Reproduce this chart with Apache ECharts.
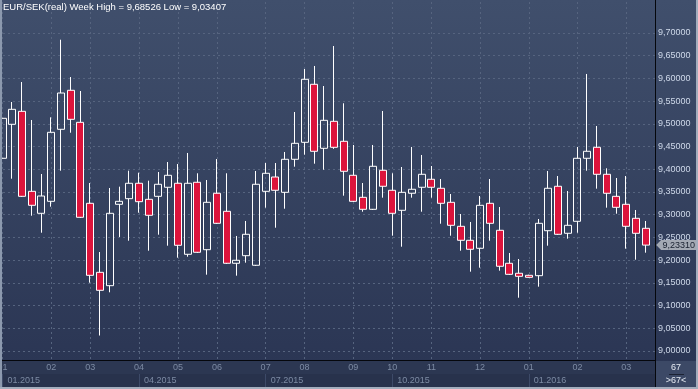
<!DOCTYPE html>
<html><head><meta charset="utf-8">
<script src="https://cdn.jsdelivr.net/npm/echarts@6/dist/echarts.min.js"></script>
<style>html,body{margin:0;padding:0;background:#2c3753;}#c{width:698px;height:389px;}</style>
</head><body><div id="c"></div><script>
// ---- data ----
const weeks = Array.from({length: 67}, (_, i) => 'W' + (i + 1));
const open  = [9.4242,9.4990,9.5276,9.3515,9.3031,9.3295,9.4880,9.5739,9.5034,9.3251,
               9.1732,9.1438,9.3229,9.3353,9.3692,9.3339,9.3405,9.3604,9.3692,9.2129,
               9.3714,9.2230,9.3472,9.3075,9.1931,9.2098,9.1887,9.3515,9.3830,9.3493,
               9.4220,9.4594,9.5871,9.4462,9.5056,9.4616,9.3868,9.3383,9.3119,9.3978,
               9.3538,9.3097,9.3472,9.3604,9.3780,9.3582,9.3273,9.2745,9.2437,9.2261,
               9.3251,9.2657,9.1931,9.1711,9.1666,9.1658,9.2648,9.3626,9.2591,9.2855,
               9.4242,9.4484,9.3890,9.3405,9.3229,9.2921,9.2701];
const close = [9.5122,9.5320,9.3405,9.3207,9.3412,9.4814,9.5679,9.5100,9.2943,9.1666,
               9.1336,9.3031,9.3295,9.3692,9.3287,9.2987,9.3670,9.3868,9.2327,9.3692,
               9.2173,9.3273,9.2811,9.1931,9.1997,9.2569,9.3670,9.3912,9.3538,9.4220,
               9.4572,9.5981,9.4396,9.5078,9.4484,9.3956,9.3295,9.3119,9.4066,9.3626,
               9.3031,9.3493,9.3560,9.3890,9.3604,9.3251,9.2767,9.2437,9.2239,9.3207,
               9.2811,9.1865,9.1688,9.1644,9.1622,9.2811,9.3582,9.2569,9.2767,9.4242,
               9.4396,9.3890,9.3472,9.3163,9.2745,9.2591,9.2331];
const high  = [9.5122,9.5481,9.5921,9.5085,9.3896,9.5144,9.68526,9.6031,9.5723,9.3698,
               9.2179,9.3588,9.3617,9.3969,9.3925,9.3749,9.3940,9.4160,9.4116,9.4359,
               9.3912,9.3764,9.4226,9.3912,9.2532,9.2862,9.3962,9.4138,9.4138,9.4381,
               9.5261,9.6208,9.6274,9.5833,9.6714,9.5453,9.4535,9.3698,9.4535,9.5283,
               9.3912,9.4050,9.4491,9.4315,9.4072,9.3786,9.3456,9.3016,9.2840,9.3412,
               9.3786,9.3170,9.2157,9.2025,9.1680,9.2906,9.3962,9.3852,9.3522,9.4491,
               9.6098,9.4953,9.4022,9.3808,9.3852,9.3104,9.2862];
const low   = [9.4242,9.3793,9.3390,9.2978,9.2604,9.3177,9.3969,9.4805,9.2928,9.1504,
               9.03407,9.1292,9.2510,9.2428,9.3044,9.2208,9.2560,9.2318,9.2054,9.2076,
               9.2157,9.1680,9.2796,9.1915,9.1658,9.1944,9.1871,9.3155,9.2714,9.3132,
               9.4057,9.4321,9.4123,9.3991,9.4450,9.3419,9.3280,9.3066,9.3104,9.3375,
               9.2538,9.2296,9.3375,9.3066,9.3375,9.2802,9.2538,9.2208,9.1746,9.1834,
               9.2428,9.1768,9.1673,9.1173,9.1615,9.1416,9.2318,9.2554,9.2472,9.2604,
               9.3969,9.3573,9.3155,9.3022,9.2252,9.2010,9.2164];
const monthTicks = {0:'01',5:'02',9:'03',14:'04',18:'05',22:'06',27:'07',31:'08',36:'09',
                    40:'10',44:'11',49:'12',54:'01',59:'02',64:'03'};
const quarterTicks = {0:'01.2015',14:'04.2015',27:'07.2015',40:'10.2015',54:'01.2016'};
const yMin = 9.0, yMax = 9.7, yStep = 0.05;

// ---- layout ----
const W = 698, H = 389;
const plotRight = 655, plotBottom = 360;
const g0 = {left: 3, right: W - plotRight, top: 33, bottom: H - 351};
const g1 = {left: 2.5, right: 52.3, top: 2, bottom: H - plotBottom};
const pxPerUnit = (H - g0.top - g0.bottom) / (yMax - yMin);
const y1Min = yMin - (plotBottom - (H - g0.bottom)) / pxPerUnit;
const y1Max = yMax + (g0.top - g1.top) / pxPerUnit;

const fmt = v => v.toFixed(5).replace('.', ',');
const ohlc = open.map((o, i) => [o, close[i], low[i], high[i]]);
const last = close[close.length - 1];
const titleText = 'EUR/SEK(real) Week High = ' + fmt(Math.max(...high)) + ' Low = ' + fmt(Math.min(...low));

const FONT = 'Liberation Sans, Arial, sans-serif';
const gridLine = {color: '#56647f', width: 1, type: [2, 3]};

const chart = echarts.init(document.getElementById('c'), null, {renderer: 'canvas'});
chart.setOption({
  animation: false,
  backgroundColor: new echarts.graphic.LinearGradient(0, 0, 0, 1, [
    {offset: 0, color: '#404f6c'}, {offset: 0.93, color: '#2b3654'}, {offset: 1, color: '#2a3450'}]),
  title: {text: titleText, left: 3, top: 2, padding: 0,
    textStyle: {color: '#ffffff', fontSize: 9.5, fontWeight: 'normal', fontFamily: FONT}},
  grid: [
    Object.assign({containLabel: false, outerBoundsMode: 'none'}, g0),
    Object.assign({containLabel: false, outerBoundsMode: 'none'}, g1)
  ],
  xAxis: [
    {gridIndex: 0, type: 'value', show: false, min: 0, max: 1},
    {gridIndex: 1, type: 'category', data: weeks, boundaryGap: false,
      axisLine: {show: false}, axisTick: {show: false},
      axisLabel: {interval: 0, margin: 3, color: '#7d8ba4', fontSize: 9, fontFamily: FONT,
        formatter: (v, i) => monthTicks[i] || ''},
      splitLine: {show: true, interval: (i) => (i in monthTicks), lineStyle: gridLine}},
    {gridIndex: 1, type: 'category', data: weeks, boundaryGap: false, position: 'bottom', offset: 14,
      axisLine: {show: false},
      axisTick: {show: true, interval: (i) => (i in quarterTicks), length: 13, inside: false,
        lineStyle: {color: '#3d4a68', width: 1}},
      axisLabel: {interval: 0, margin: 2, align: 'left', padding: [0, 0, 0, 5],
        color: '#7d8ba4', fontSize: 9, fontFamily: FONT,
        formatter: (v, i) => quarterTicks[i] || ''},
      splitLine: {show: false}}
  ],
  yAxis: [
    {gridIndex: 0, type: 'value', position: 'right', min: yMin, max: yMax, interval: yStep,
      axisLine: {show: false}, axisTick: {show: false},
      axisLabel: {margin: 3, color: '#cfd9ea', fontSize: 9, fontFamily: FONT, formatter: v => fmt(v)},
      splitLine: {show: true, lineStyle: gridLine}},
    {gridIndex: 1, type: 'value', show: false, min: y1Min, max: y1Max, splitLine: {show: false}}
  ],
  series: [{
    type: 'candlestick', xAxisIndex: 1, yAxisIndex: 1, data: ohlc,
    barWidth: 7.5, clip: false,
    itemStyle: {color: 'rgba(0,0,0,0)', color0: '#dc143c', borderColor: '#ffffff', borderColor0: '#ffffff', borderWidth: 1},
    markPoint: {
      symbol: 'path://M0,6 L5,0 L42,0 L42,12 L5,12 Z', symbolSize: [41, 10], symbolOffset: [31, 0],
      itemStyle: {color: '#a3a9b3'},
      label: {show: true, position: 'inside', color: '#18202f', fontSize: 9, fontFamily: FONT,
        offset: [2, 0], formatter: () => fmt(last)},
      data: [{coord: [weeks[weeks.length - 1], last], value: last}]
    }
  }],
  graphic: [
    {type: 'rect', z: -1, shape: {x: 0, y: 361, width: W, height: 28}, style: {fill: '#2c3752'}},
    {type: 'rect', z: -1, shape: {x: 0, y: 374, width: W, height: 14}, style: {fill: '#28324c'}},
    {type: 'line', z: 50, shape: {x1: 0, y1: 360.5, x2: 656, y2: 360.5}, style: {stroke: '#05070c', lineWidth: 1}},
    {type: 'line', z: 50, shape: {x1: 655.5, y1: 0, x2: 655.5, y2: 388}, style: {stroke: '#05070c', lineWidth: 1}},
    {type: 'rect', z: 50, shape: {x: 656, y: 361, width: 40, height: 26}, style: {fill: '#3c4966'}},
    {type: 'text', z: 51, x: 676, y: 368, style: {text: String(weeks.length), fill: '#e6ebf3', fontSize: 9, fontFamily: FONT, align: 'center', verticalAlign: 'middle'}},
    {type: 'line', z: 51, shape: {x1: 669, y1: 374.5, x2: 684, y2: 374.5}, style: {stroke: '#1b2233', lineWidth: 1}},
    {type: 'text', z: 51, x: 676, y: 381, style: {text: '>' + weeks.length + '<', fill: '#e6ebf3', fontSize: 9, fontFamily: FONT, align: 'center', verticalAlign: 'middle'}},
    {type: 'rect', z: 60, shape: {x: 0, y: 0, width: 2, height: H}, style: {fill: '#8c99ae'}},
    {type: 'rect', z: 60, shape: {x: 0, y: 387, width: W, height: 2}, style: {fill: '#a3adbd'}},
    {type: 'rect', z: 60, shape: {x: 696, y: 0, width: 2, height: H}, style: {fill: '#a3adbd'}}
  ]
});
</script></body></html>
